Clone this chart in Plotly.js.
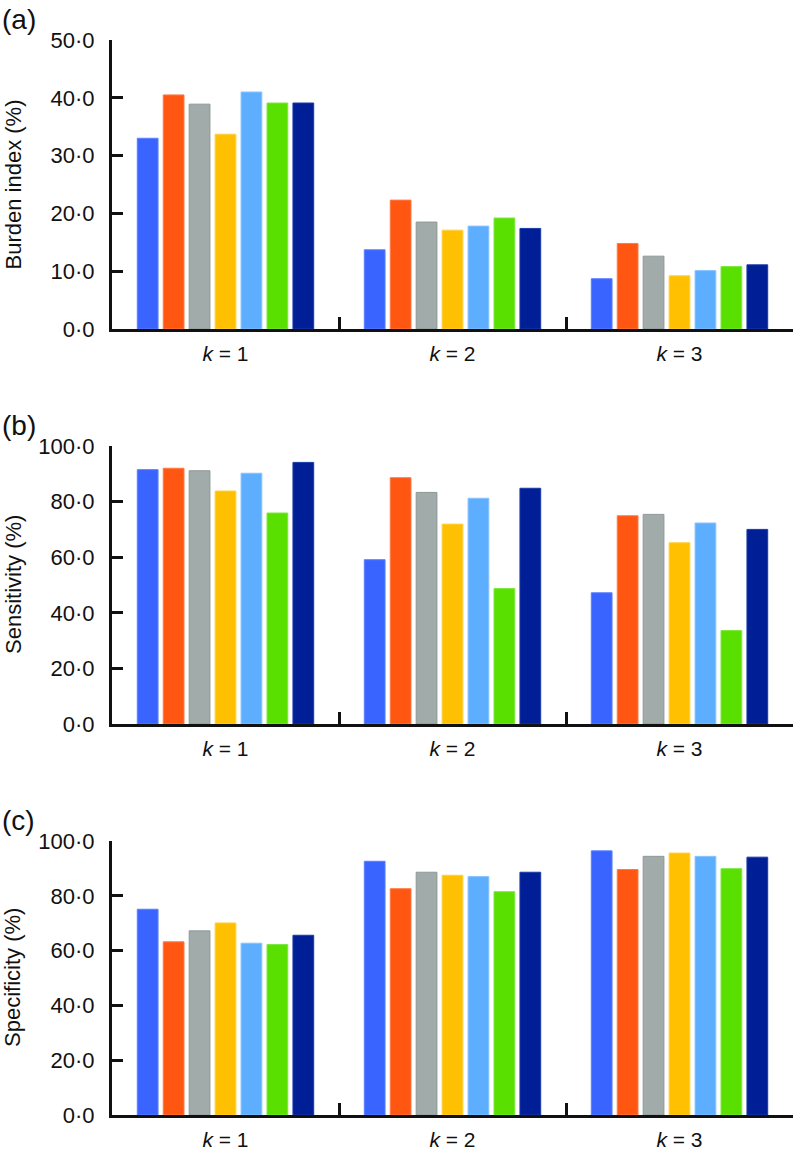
<!DOCTYPE html>
<html>
<head>
<meta charset="utf-8">
<script src="https://cdn.plot.ly/plotly-3.0.1.min.js"></script>
<style>
  html, body { margin: 0; padding: 0; background: #fff; }
  #chart { width: 795px; height: 1152px; }
</style>
</head>
<body>
<div id="chart"></div>
<script>
// Categories (number of clusters k) and one colour per method
const categories = ['<i>k</i> = 1', '<i>k</i> = 2', '<i>k</i> = 3'];
const seriesColors = ['#3a64ff', '#ff5712', '#a0abaa', '#ffc002', '#5eaeff', '#5ae000', '#001f96'];
const seriesEdges  = ['#5a80ff', '#ff7a44', '#8f9897', '#ffd040', '#86c3ff', '#7ae83a', '#1a3aa8'];

// Panel (a) burden index (%), one array per method, values for k = 1, 2, 3
const burden1 = [33.0, 13.7, 8.7];
const burden2 = [40.5, 22.3, 14.8];
const burden3 = [38.9, 18.5, 12.6];
const burden4 = [33.7, 17.1, 9.2];
const burden5 = [41.0, 17.8, 10.1];
const burden6 = [39.1, 19.2, 10.8];
const burden7 = [39.1, 17.4, 11.1];

// Panel (b) sensitivity (%)
const sens1 = [91.5, 59.1, 47.2];
const sens2 = [92.0, 88.6, 74.9];
const sens3 = [91.1, 83.3, 75.4];
const sens4 = [83.8, 71.9, 65.2];
const sens5 = [90.2, 81.2, 72.3];
const sens6 = [75.9, 48.7, 33.6];
const sens7 = [94.1, 84.8, 70.0];

// Panel (c) specificity (%)
const spec1 = [75.1, 92.6, 96.4];
const spec2 = [63.2, 82.6, 89.6];
const spec3 = [67.2, 88.6, 94.4];
const spec4 = [70.1, 87.5, 95.6];
const spec5 = [62.7, 87.0, 94.4];
const spec6 = [62.2, 81.5, 89.9];
const spec7 = [65.6, 88.6, 94.1];

const panels = [
    { series: [burden1, burden2, burden3, burden4, burden5, burden6, burden7], xa: 'x', ya: 'y' },
    { series: [sens1, sens2, sens3, sens4, sens5, sens6, sens7], xa: 'x2', ya: 'y2' },
    { series: [spec1, spec2, spec3, spec4, spec5, spec6, spec7], xa: 'x3', ya: 'y3' }
];

const yTicks50 = [0, 10, 20, 30, 40, 50];
const yTicks100 = [0, 20, 40, 60, 80, 100];
const fmt = v => v.toFixed(1).replace('.', '\u00b7');

const traces = [];
panels.forEach(p => {
    p.series.forEach((vals, i) => {
        traces.push({
            type: 'bar',
            x: categories,
            y: vals,
            xaxis: p.xa,
            yaxis: p.ya,
            marker: { color: seriesColors[i], line: { color: seriesEdges[i], width: 1 } },
            showlegend: false,
            hoverinfo: 'y'
        });
    });
});

const family = 'Liberation Sans, Arial, sans-serif';
const ink = '#111';

const xAxisBase = (anchor) => ({
    anchor: anchor,
    domain: [112 / 795, 793 / 795],
    showline: true, linecolor: ink, linewidth: 3,
    ticks: 'inside', ticklen: 12, tickwidth: 3, tickcolor: ink,
    tickson: 'boundaries',
    ticklabelstandoff: 4,
    tickfont: { family: family, size: 21, color: ink },
    showgrid: false, zeroline: false, fixedrange: true
});

const yAxisBase = (anchor, domain, range, ticks) => ({
    anchor: anchor,
    domain: domain,
    range: range,
    tickmode: 'array',
    tickvals: ticks,
    ticktext: ticks.map(fmt),
    showline: true, linecolor: ink, linewidth: 3,
    ticks: 'inside', ticklen: 11, tickwidth: 3, tickcolor: ink,
    ticklabelstandoff: 10,
    tickfont: { family: family, size: 22, color: ink },
    showgrid: false, zeroline: false, fixedrange: true
});

const yTitle = (text, yc) => ({
    text: text, xref: 'paper', yref: 'paper', x: 13 / 795, y: yc,
    xanchor: 'center', yanchor: 'middle', textangle: -90, showarrow: false,
    font: { family: family, size: 22, color: ink }
});

const panelLabel = (text, yc) => ({
    text: text, xref: 'paper', yref: 'paper', x: 0, y: yc,
    xanchor: 'left', yanchor: 'middle', showarrow: false,
    font: { family: family, size: 28, color: ink }
});

const dA = [1 - 329 / 1152, 1 - 40 / 1152];
const dB = [1 - 724 / 1152, 1 - 446 / 1152];
const dC = [1 - 1115 / 1152, 1 - 841 / 1152];
const mid = d => (d[0] + d[1]) / 2;

const layout = {
    width: 795,
    height: 1152,
    margin: { l: 0, r: 0, t: 0, b: 0 },
    paper_bgcolor: '#fff',
    plot_bgcolor: '#fff',
    font: { family: family, color: ink, size: 18 },
    barmode: 'group',
    bargap: 0.2,
    bargroupgap: 0.2,
    showlegend: false,
    xaxis: xAxisBase('y'),
    xaxis2: xAxisBase('y2'),
    xaxis3: xAxisBase('y3'),
    yaxis: yAxisBase('x', dA, [0, 50], yTicks50),
    yaxis2: yAxisBase('x2', dB, [0, 100], yTicks100),
    yaxis3: yAxisBase('x3', dC, [0, 100], yTicks100),
    annotations: [
        yTitle('Burden index (%)', mid(dA)),
        yTitle('Sensitivity (%)', mid(dB)),
        yTitle('Specificity (%)', mid(dC)),
        panelLabel('(a)', 1 - 19 / 1152),
        panelLabel('(b)', 1 - 425 / 1152),
        panelLabel('(c)', 1 - 820 / 1152)
    ]
};

Plotly.newPlot('chart', traces, layout, { displayModeBar: false, staticPlot: true });
</script>
</body>
</html>
